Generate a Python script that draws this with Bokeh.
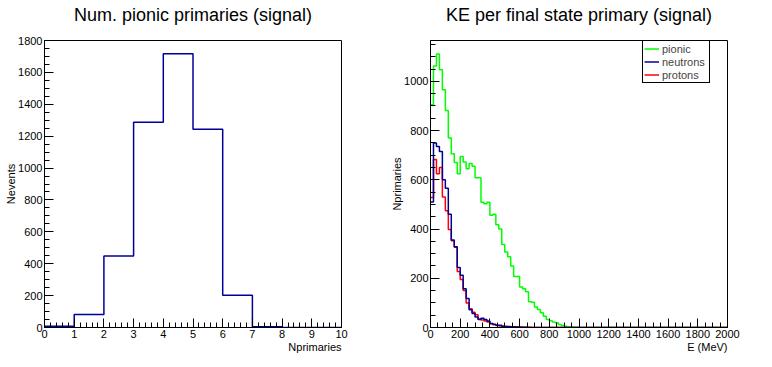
import numpy as np
from bokeh.plotting import figure
from bokeh.layouts import row
from bokeh.models import Range1d, FixedTicker, Legend, LegendItem, Title
from bokeh.embed import file_html
from bokeh.resources import INLINE

FONT = "Liberation Sans"

# ---------------- data: left panel ----------------
npr_title = "Num. pionic primaries (signal)"
npr_edges = [0, 1, 2, 3, 4, 5, 6, 7, 8, 9, 10]
npr_counts = [8, 81, 449, 1288, 1717, 1244, 202, 5, 0, 0]
npr_xticks = [0, 1, 2, 3, 4, 5, 6, 7, 8, 9, 10]
npr_yticks = [0, 200, 400, 600, 800, 1000, 1200, 1400, 1600, 1800]

# ---------------- data: right panel (20 MeV bins, 0-2000 MeV) ----------------
ke_title = "KE per final state primary (signal)"
ke_bin_width = 20
pionic = [905, 1062, 1111, 1047, 966, 882, 770, 706, 670, 625,
          695, 672, 645, 666, 655, 608, 608, 509, 503, 509,
          456, 460, 417, 400, 337, 307, 287, 250, 207, 207,
          165, 157, 145, 105, 103, 83, 73, 60, 46, 32,
          27, 22, 19, 12, 8, 5, 3, 2, 1, 1,
          0, 0, 0, 0, 0, 0, 0, 0, 0, 0,
          0, 0, 0, 0, 0, 0, 0, 0, 0, 0,
          0, 0, 0, 0, 0, 0, 0, 0, 0, 0,
          0, 0, 0, 0, 0, 0, 0, 0, 0, 0,
          0, 0, 0, 0, 0, 0, 0, 0, 0, 0]
neutrons = [510, 750, 735, 715, 600, 566, 460, 355, 328, 244,
            212, 157, 118, 72, 57, 43, 33, 38, 32, 26,
            16, 13, 9, 9, 5, 4, 3, 3, 2, 2,
            1, 1, 1, 0, 0, 0, 0, 0, 0, 0,
            0, 0, 0, 0, 0, 0, 0, 0, 0, 0,
            0, 0, 0, 0, 0, 0, 0, 0, 0, 0,
            0, 0, 0, 0, 0, 0, 0, 0, 0, 0,
            0, 0, 0, 0, 0, 0, 0, 0, 0, 0,
            0, 0, 0, 0, 0, 0, 0, 0, 0, 0,
            0, 0, 0, 0, 0, 0, 0, 0, 0, 0]
protons = [528, 683, 625, 650, 530, 474, 398, 352, 326, 228,
           195, 150, 100, 76, 62, 52, 35, 30, 26, 22,
           15, 11, 8, 6, 5, 4, 4, 3, 3, 2,
           2, 1, 1, 1, 0, 0, 0, 0, 0, 0,
           0, 0, 0, 0, 0, 0, 0, 0, 0, 0,
           0, 0, 0, 0, 0, 0, 0, 0, 0, 0,
           0, 0, 0, 0, 0, 0, 0, 0, 0, 0,
           0, 0, 0, 0, 0, 0, 0, 0, 0, 0,
           0, 0, 0, 0, 0, 0, 0, 0, 0, 0,
           0, 0, 0, 0, 0, 0, 0, 0, 0, 0]
ke_xticks = [0, 200, 400, 600, 800, 1000, 1200, 1400, 1600, 1800, 2000]
ke_yticks = [0, 200, 400, 600, 800, 1000]
ke_ymax = 1166

series_names = ["pionic", "neutrons", "protons"]
series_colors = {"pionic": "#00ff00", "neutrons": "#000099", "protons": "#ff0000"}
hist_color = "#000099"


def style(p, xticks, xminor, yticks, yminor):
    p.xgrid.visible = False
    p.ygrid.visible = False
    p.outline_line_color = "black"
    p.outline_line_width = 1
    p.outline_line_alpha = 1
    p.background_fill_color = "white"
    p.border_fill_color = "white"
    p.xaxis.ticker = FixedTicker(ticks=xticks, minor_ticks=xminor)
    p.yaxis.ticker = FixedTicker(ticks=yticks, minor_ticks=yminor)
    for ax in (p.xaxis, p.yaxis):
        ax.axis_line_color = "black"
        ax.major_tick_line_color = "black"
        ax.minor_tick_line_color = "black"
        ax.major_tick_in = 9
        ax.major_tick_out = 0
        ax.minor_tick_in = 5
        ax.minor_tick_out = 0
        ax.major_label_text_font = FONT
        ax.major_label_text_font_size = "11px"
        ax.major_label_text_color = "black"
        ax.major_label_standoff = 2
        ax.axis_label_text_font = FONT
        ax.axis_label_text_font_size = "11px"
        ax.axis_label_text_font_style = "normal"
        ax.axis_label_text_color = "black"
    p.yaxis.axis_label_standoff = -2


def add_texts(p, title, xlabel, ylabel):
    # thin blank spacer next to the frame, then the real title above it
    p.add_layout(Title(text=" ", text_font=FONT, text_font_size="8px", standoff=5), "above")
    p.add_layout(Title(text=title, align="center", standoff=0,
                       text_font=FONT, text_font_size="18px", text_font_style="normal",
                       text_color="black"), "above")
    p.add_layout(Title(text=xlabel, align="right", vertical_align="top", standoff=0,
                       text_font=FONT, text_font_size="11px", text_font_style="normal",
                       text_color="black"), "below")
    p.yaxis.axis_label = ylabel


# ---------------- left figure ----------------
p1 = figure(width=386, height=359, x_range=Range1d(0, 10), y_range=Range1d(0, 1800),
            output_backend="svg", toolbar_location=None, title=None,
            min_border_left=44, min_border_right=45, min_border_top=40, min_border_bottom=32)
style(p1, npr_xticks, [v / 5 for v in range(0, 51)], npr_yticks, list(range(0, 1801, 50)))
p1.step(x=npr_edges, y=npr_counts + [npr_counts[-1]], mode="after",
        line_color=hist_color, line_width=1.5)
add_texts(p1, npr_title, "Nprimaries", "Nevents")

# ---------------- right figure ----------------
ke_edges = [i * ke_bin_width for i in range(len(pionic) + 1)]
p2 = figure(width=378, height=359, x_range=Range1d(0, 2000), y_range=Range1d(0, ke_ymax),
            output_backend="svg", toolbar_location=None, title=None,
            min_border_left=44, min_border_right=37, min_border_top=40, min_border_bottom=32)
style(p2, ke_xticks, list(range(0, 2001, 50)), ke_yticks, list(range(0, 1151, 50)))
data = {"pionic": pionic, "neutrons": neutrons, "protons": protons}
rends = {}
for name in ["pionic", "protons", "neutrons"]:
    vals = data[name]
    rends[name] = p2.step(x=ke_edges, y=vals + [vals[-1]], mode="after",
                          line_color=series_colors[name], line_width=1.5)
legend = Legend(items=[LegendItem(label=n, renderers=[rends[n]]) for n in series_names],
                location=(212, 244), margin=0, padding=1, spacing=0,
                glyph_width=15, glyph_height=13, label_height=13, label_width=46,
                label_standoff=3, label_text_font=FONT, label_text_font_size="11px",
                border_line_color="black", border_line_width=1, border_line_alpha=1,
                background_fill_color="white", background_fill_alpha=1)
p2.add_layout(legend)
add_texts(p2, ke_title, "E (MeV)", "Nprimaries")

layout = row(p1, p2, spacing=0)
open("out.html", "w").write(file_html(layout, INLINE))
